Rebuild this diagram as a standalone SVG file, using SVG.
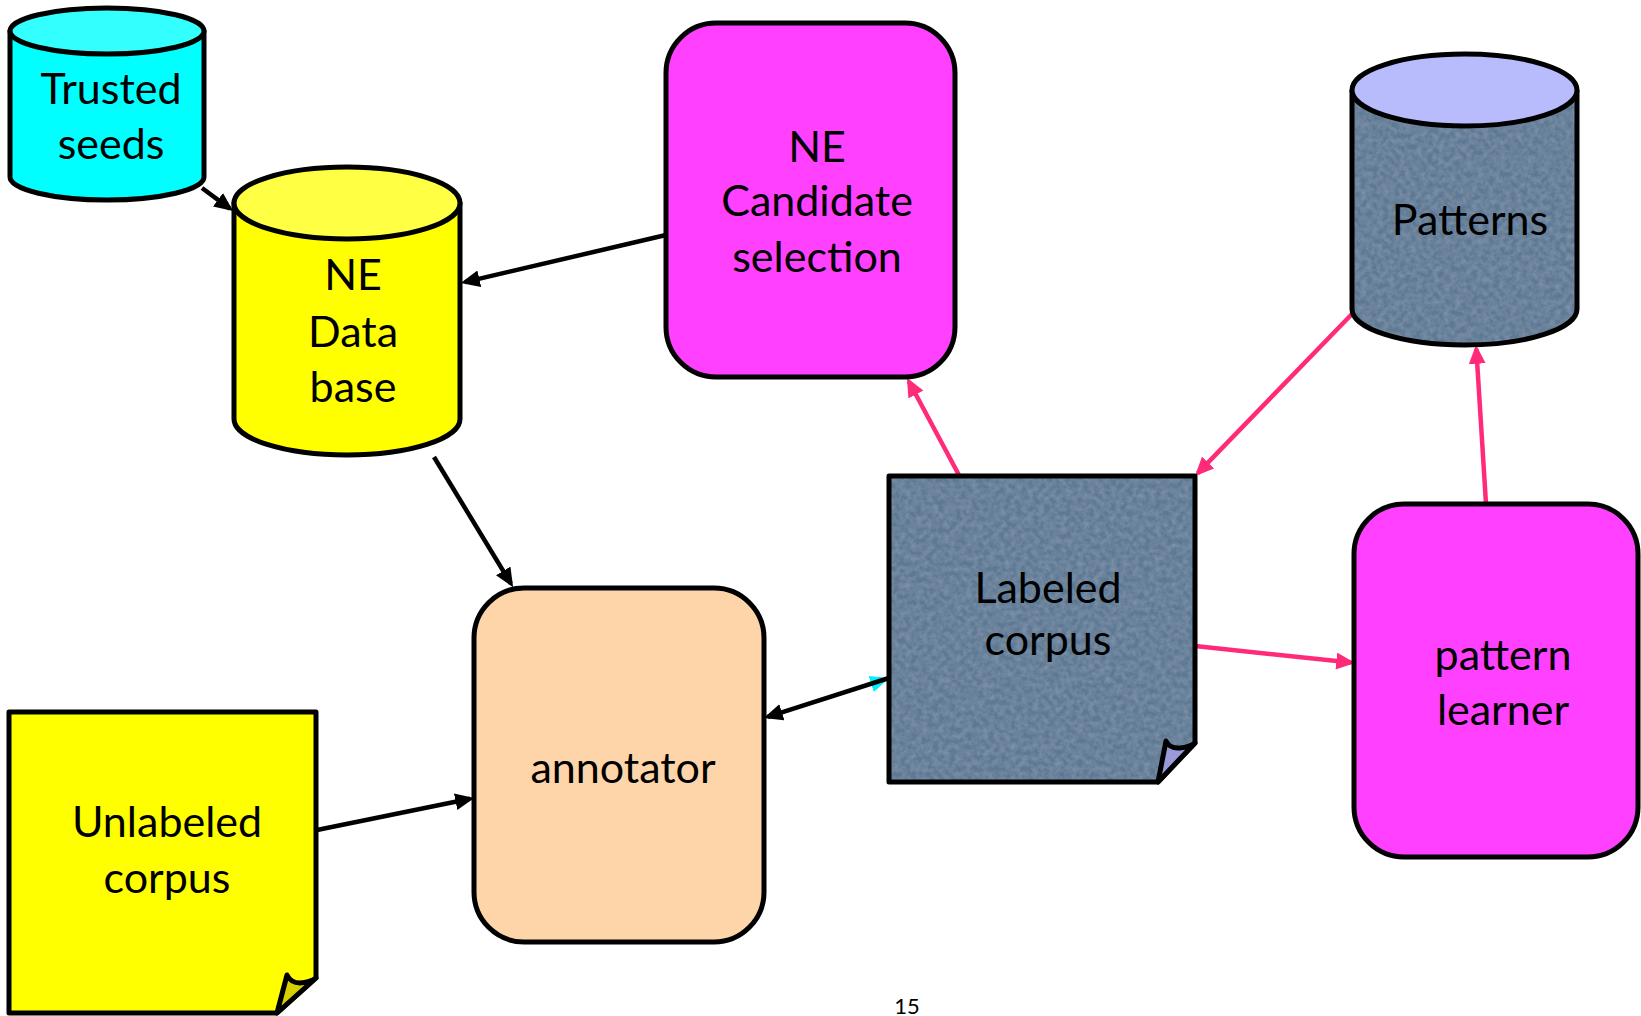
<svg xmlns="http://www.w3.org/2000/svg" width="1641" height="1016" viewBox="0 0 1641 1016">
  <style>
    .outline { stroke: #000; stroke-width: 5; stroke-linejoin: round; }
    .label { font-family: Lato, "Noto Sans", "Liberation Sans", sans-serif; font-size: 43px; fill: #000; text-anchor: middle; }
    .wire { fill: none; stroke: #000; stroke-width: 4.5; }
    .wire-pink { fill: none; stroke: #ff2a78; stroke-width: 4.5; }
  </style>
  <defs>
    <marker id="head-black" viewBox="0 0 18 16" refX="14" refY="8" markerWidth="19" markerHeight="17" markerUnits="userSpaceOnUse" orient="auto">
      <path d="M0,0 L18,8 L0,16 Z" fill="#000"/>
    </marker>
    <marker id="head-pink" viewBox="0 0 18 16" refX="14" refY="8" markerWidth="19" markerHeight="17" markerUnits="userSpaceOnUse" orient="auto">
      <path d="M0,0 L18,8 L0,16 Z" fill="#ff2a78"/>
    </marker>
    <marker id="head-cyan" viewBox="0 0 18 16" refX="14" refY="8" markerWidth="19" markerHeight="17" markerUnits="userSpaceOnUse" orient="auto">
      <path d="M0,0 L18,8 L0,16 Z" fill="#00f0ff"/>
    </marker>
    <!-- soft mottled slate paper -->
    <filter id="grain" x="0" y="0" width="100%" height="100%">
      <feTurbulence type="fractalNoise" baseFrequency="0.18" numOctaves="3" seed="7" result="noise"/>
      <feColorMatrix in="noise" type="matrix" values="0 0 0 0 0.75  0 0 0 0 0.85  0 0 0 0 1  0.25 0 0 0 -0.07" result="specks"/>
      <feComposite in="specks" in2="SourceGraphic" operator="in" result="clipped"/>
      <feMerge>
        <feMergeNode in="SourceGraphic"/>
        <feMergeNode in="clipped"/>
      </feMerge>
    </filter>
  </defs>

  <rect width="1641" height="1016" fill="#fff"/>

  <g id="connectors">
    <path class="wire" d="M202,188 L229.8,208.6" marker-end="url(#head-black)"/>
    <path class="wire" d="M666,235 L464.9,282.1" marker-end="url(#head-black)"/>
    <path class="wire" d="M434,457 L510.9,583.6" marker-end="url(#head-black)"/>
    <path class="wire" d="M317,830 L470.1,798.8" marker-end="url(#head-black)"/>
    <path d="M860,687.5 L885.2,679.3" fill="none" stroke="#00f0ff" stroke-width="3" marker-end="url(#head-cyan)"/>
    <path class="wire" d="M889,678 L767.8,716.8" marker-end="url(#head-black)"/>
    <path class="wire-pink" d="M960,477 L908.9,381.5" marker-end="url(#head-pink)"/>
    <path class="wire-pink" d="M1352,314 L1197.8,473.1" marker-end="url(#head-pink)"/>
    <path class="wire-pink" d="M1195,646 L1351,662.6" marker-end="url(#head-pink)"/>
    <path class="wire-pink" d="M1486,504 L1476.3,349" marker-end="url(#head-pink)"/>
  </g>

  <g id="trusted-seeds">
    <path class="outline" d="M10,31 V177 A97,23 0 0 0 204,177 V31 Z" fill="#00ffff"/>
    <ellipse class="outline" cx="107" cy="31" rx="97" ry="23" fill="#33ffff"/>
    <text class="label" x="111" y="104">Trusted</text>
    <text class="label" x="111" y="159">seeds</text>
  </g>

  <g id="ne-database">
    <path class="outline" d="M234,203 V419 A113,36 0 0 0 460,419 V203 Z" fill="#ffff00"/>
    <ellipse class="outline" cx="347" cy="203" rx="113" ry="36" fill="#ffff44"/>
    <text class="label" x="353" y="290">NE</text>
    <text class="label" x="353" y="347">Data</text>
    <text class="label" x="353" y="402">base</text>
  </g>

  <g id="ne-candidate-selection">
    <rect class="outline" x="666" y="23" width="289" height="354" rx="50" fill="#ff40ff"/>
    <text class="label" x="817" y="162">NE</text>
    <text class="label" x="817" y="216">Candidate</text>
    <text class="label" x="817" y="272">selection</text>
  </g>

  <g id="patterns">
    <path d="M1352,90 V309 A112.5,36 0 0 0 1577,309 V90 Z" fill="#5d7893" filter="url(#grain)"/>
    <path class="outline" d="M1352,90 V309 A112.5,36 0 0 0 1577,309 V90" fill="none"/>
    <ellipse class="outline" cx="1464.5" cy="90" rx="112.5" ry="36" fill="#b8bcfc"/>
    <text class="label" x="1470" y="235">Patterns</text>
  </g>

  <g id="labeled-corpus">
    <path d="M889,476 H1195 V743 L1158,782 H889 Z" fill="#5d7893" filter="url(#grain)"/>
    <path class="outline" d="M889,476 H1195 V743 L1158,782 H889 Z" fill="none"/>
    <path class="outline" d="M1158,782 L1166,741 Q1170,749 1180,748 Q1189,747 1195,743 Z" fill="#9a9ad8" stroke-width="4"/>
    <text class="label" x="1048" y="603">Labeled</text>
    <text class="label" x="1048" y="655">corpus</text>
  </g>

  <g id="annotator">
    <rect class="outline" x="474" y="588" width="290" height="354" rx="50" fill="#fed5a8"/>
    <text class="label" x="623" y="783">annotator</text>
  </g>

  <g id="unlabeled-corpus">
    <path class="outline" d="M9,712 H316 V978 L277,1013 H9 Z" fill="#ffff00"/>
    <path class="outline" d="M277,1013 L287,975 Q291,983 300,983 Q310,982 316,978 Z" fill="#d6d000" stroke-width="4"/>
    <text class="label" x="167" y="837">Unlabeled</text>
    <text class="label" x="167" y="893">corpus</text>
  </g>

  <g id="pattern-learner">
    <rect class="outline" x="1354" y="504" width="284" height="353" rx="50" fill="#ff40ff"/>
    <text class="label" x="1503" y="670">pattern</text>
    <text class="label" x="1503" y="725">learner</text>
  </g>

  <text x="907" y="1014" font-family="Lato, 'Liberation Sans', sans-serif" font-size="22" text-anchor="middle" fill="#000">15</text>
</svg>
